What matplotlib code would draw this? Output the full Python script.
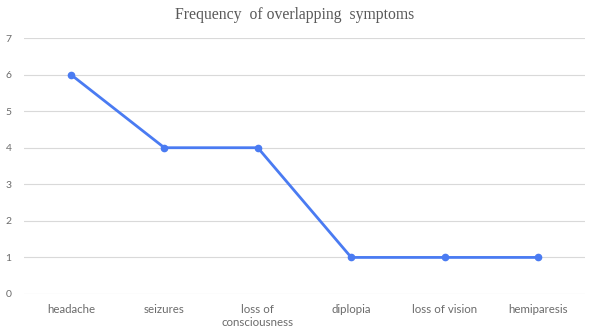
import matplotlib
matplotlib.use("Agg")
import matplotlib.pyplot as plt

sintomas = ["headache", "seizures", "loss of\nconsciousness", "diplopia", "loss of vision", "hemiparesis"]
frecuencia = [6, 4, 4, 1, 1, 1]
yticks = [0, 1, 2, 3, 4, 5, 6, 7]

fig = plt.figure(figsize=(5.89, 3.32), dpi=100)
ax = fig.add_axes([0.041, 0.1145, 0.952, 0.771])

x = list(range(len(sintomas)))
ax.plot(x, frecuencia, color="#4A7BF2", linewidth=2.0, marker="o", markersize=4.5, zorder=3)

ax.set_xlim(-0.5, len(sintomas) - 0.5)
ax.set_ylim(0, 7)
ax.set_yticks(yticks)
ax.set_xticks(x)
ax.set_xticklabels(sintomas, fontsize=8.3, color="#6b6b6b", family="Lato", linespacing=1.2)
ax.tick_params(axis="y", labelsize=7.5, colors="#6b6b6b", length=0, pad=9)
ax.tick_params(axis="x", length=0, pad=7)
for lab in ax.get_yticklabels():
    lab.set_family("Lato")
ax.grid(axis="y", color="#d9d9d9", linewidth=0.8)
for s in ax.spines.values():
    s.set_visible(False)

fig.text(0.5, 0.955, "Frequency  of overlapping  symptoms", ha="center", va="center",
         fontsize=11.3, color="#595959", family="Liberation Serif")

fig.savefig("out.png", dpi=100)
